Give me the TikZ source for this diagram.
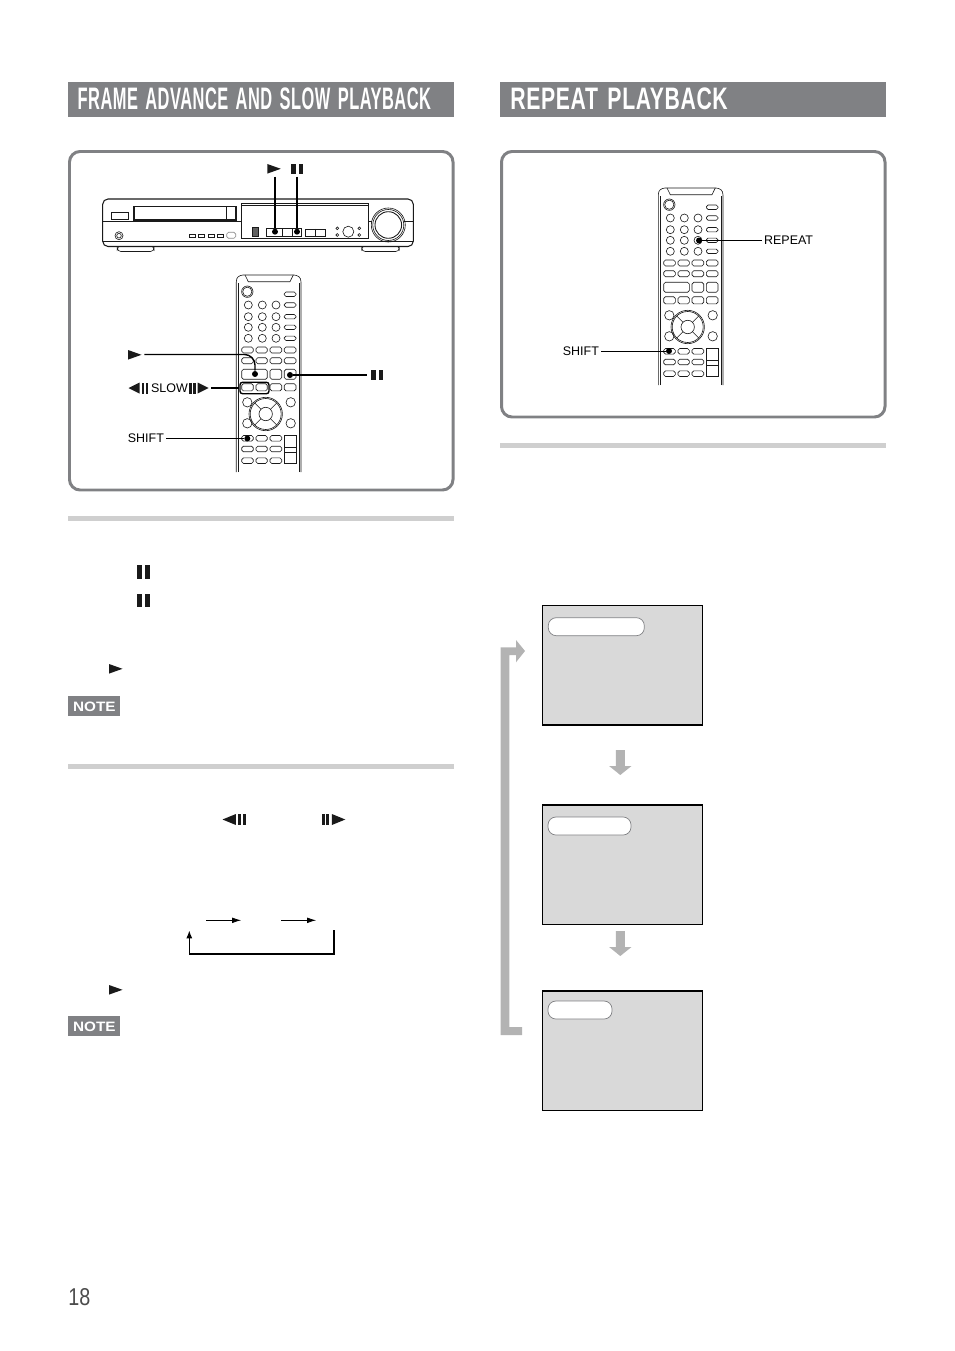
\documentclass[tikz,border=0pt]{standalone}
\usepackage{fontspec}
\setmainfont{Liberation Sans}
\usepackage{graphicx}
\usetikzlibrary{arrows.meta}
\definecolor{barc}{HTML}{808184}
\definecolor{rulec}{HTML}{CFCFCF}
\definecolor{loopc}{HTML}{B3B3B3}
\definecolor{screenc}{HTML}{D9D9D9}
\definecolor{ink}{HTML}{1A1A1A}
\newcommand{\headtext}[1]{\bfseries\addfontfeature{LetterSpace=3}\spaceskip=.45em\relax #1}
\tikzset{
  body/.style={draw=ink,line width=.35pt},
  btn/.style={draw=ink,line width=.35pt,rounded corners=1pt},
  panel/.style={draw=barc,line width=1.7pt,rounded corners=6pt},
  leader/.style={draw=black,line width=.8pt},
  thinleader/.style={draw=black,line width=.4pt},
  dot/.style={circle,fill=black,inner sep=0pt,minimum size=3.4pt},
  lbl/.style={inner sep=1pt,font=\fontsize{7.1pt}{8pt}\selectfont},
  bar/.style={fill=barc,draw=none},
  rulebar/.style={fill=rulec,draw=none},
  screen/.style={fill=screenc,draw=black,line width=.8pt,outer sep=0pt,inner sep=0pt,minimum width=3.2cm,minimum height=2.39cm},
  pill/.style={fill=white,draw=barc,line width=.4pt,rounded corners=4.5pt},
  notebox/.style={fill=barc,text=white,inner sep=0pt,minimum width=1.04cm,minimum height=.4cm},
  remote/.pic={
    \draw[body] (0.3,199) -- (0.3,9) .. controls (0.3,4) and (3,2.5) .. (7,2) -- (58,2) .. controls (62,2.5) and (65,4) .. (65,9) -- (65,199);
    \draw[body] (2.5,199) -- (2.5,10);
    \draw[body] (63,199) -- (63,10);
    \draw[body] (9,2) -- (12.3,8.7) -- (54,8.7) -- (57.3,2);
    \draw[body] (11.3,18.7) circle (5.7);
    \draw[body] (11.3,18.7) circle (4.6);
    \draw[btn] (48.3,19) rectangle (60,23.5);
    \foreach \yy in {32,43.7,54.3,65.3} {
      \foreach \xx in {12.3,26.3,40} \draw[body] (\xx,\yy) circle (4);
      \draw[btn] (48.3,\yy-2.2) rectangle (60,\yy+2.2);
    }
    \foreach \yy/\hh in {77/3,87.7/3,114.3/3.6} {
      \foreach \xa/\xb in {5.7/17.3,20/31.3,34/45.7,48.3/60}
        \draw[btn] (\xa,\yy-\hh) rectangle (\xb,\yy+\hh);
    }
    \foreach \xa/\xb in {5.7/31.3,34/45.7,48.3/60}
      \draw[btn] (\xa,96.3) rectangle (\xb,106.3);
    % cursor pad
    \begin{scope}[shift={(29.7,141)}]
      \draw[body] (0,0) circle (16.7);
      \draw[body] (0,0) circle (15.5);
      \draw[body] (0,0) circle (6.7);
      \foreach \sx/\sy in {1/1,1/-1,-1/1,-1/-1}
        \draw[body] (\sx*4.7,\sy*4.7) -- (\sx*11,\sy*11);
    \end{scope}
    \foreach \xx in {11.3,54.7} \foreach \yy in {129.3,150.3}
      \draw[body] (\xx,\yy) circle (4.7);
    \foreach \yy in {165.3,176,187.7} {
      \foreach \xa/\xb in {5.7/17.3,20/31.3,34/45.7}
        \draw[btn] (\xa,\yy-2.8) rectangle (\xb,\yy+2.8);
    }
    \draw[body] (48.3,162.7) rectangle (60,190);
    \draw[body] (48.3,174.7) -- (60,174.7);
    \draw[body] (48.3,179) -- (60,179);
  },
  playmark/.pic={\fill[ink] (0,0) -- (13.5,4.8) -- (0,9.6) -- cycle;},
  pausemark/.pic={\fill[ink] (0,0) rectangle (4.5,10); \fill[ink] (7.5,0) rectangle (12,10);},
  backmark/.pic={\fill[ink] (0,5.5) -- (11,0) -- (11,11) -- cycle; \fill[ink] (13,0) rectangle (15.5,11); \fill[ink] (17,0) rectangle (19.5,11);},
  fwdmark/.pic={\fill[ink] (0,0) rectangle (2.5,11); \fill[ink] (4,0) rectangle (6.5,11); \fill[ink] (8.5,0) -- (19.5,5.5) -- (8.5,11) -- cycle;},
  downmark/.pic={\fill[loopc] (-4.5,0) -- (4.5,0) -- (4.5,16) -- (11.2,16) -- (0,25) -- (-11.2,16) -- (-4.5,16) -- cycle;},
}

\begin{document}
\begin{tikzpicture}[x=0.02cm,y=-0.02cm]
  \useasboundingbox (0,0) rectangle (954,1351);

  % headings
  \fill[bar] (68,82) rectangle (454,117);
  \fill[bar] (500,82) rectangle (886,117);
  \node[anchor=west,inner sep=0pt,text=white] (framehead) at (77.3,99)
    {\resizebox{7.07cm}{.434cm}{\headtext{FRAME ADVANCE AND SLOW PLAYBACK}}};
  \node[anchor=west,inner sep=0pt,text=white] (repeathead) at (510,99)
    {\resizebox{4.35cm}{.434cm}{\headtext{REPEAT PLAYBACK}}};

  % panels
  \draw[panel] (69.5,151.5) rectangle (453,490);
  \draw[panel] (501.5,151.5) rectangle (885,417);

  % deck
  \draw[body,fill=white,rounded corners=2pt] (117.3,246) rectangle (154,251.5);
  \draw[body,fill=white,rounded corners=2pt] (361.7,246) rectangle (399.3,251.5);
  \draw[draw=ink,line width=.6pt,fill=white,rounded corners=3pt] (102.7,199) rectangle (413.3,246.5);
  \draw[body] (102.7,241.7) -- (413.3,241.7);
  \draw[body] (102.7,221.7) -- (241.7,221.7);
  \draw[body] (368.3,221.7) -- (372,221.7);
  \draw[body] (404,221.7) -- (413.3,221.7);
  \draw[body] (111.7,212.7) rectangle (128.3,219.3);
  \draw[draw=ink,line width=.6pt] (134,206.7) rectangle (236,220);
  \draw[body] (226,206.7) -- (226,220);
  \draw[body] (119,235.7) circle (4);
  \draw[body] (119,235.7) circle (2.3);
  \foreach \xx in {189.3,198.6,208,217.3}
    \draw[body] (\xx,234.3) rectangle ++(6,3.4);
  \draw[btn,draw=black!45] (226.7,232.3) rectangle (235.7,238.3);
  \draw[draw=ink,line width=.6pt] (241.7,203.3) rectangle (368.3,238.3);
  \draw[body] (241.7,205.5) -- (368.3,205.5);
  \draw[body,fill=ink!70] (252.3,227.3) rectangle (258.3,236);
  \draw[draw=ink,line width=.5pt] (266.7,228.3) rectangle (301.7,236);
  \draw[body] (282.7,228.3) -- (282.7,236);
  \draw[body] (292.3,228.3) -- (292.3,236);
  \draw[draw=ink,line width=.5pt] (305,229) rectangle (325,236);
  \draw[body] (315,229) -- (315,236);
  \draw[body] (348.3,231.7) circle (5.5);
  \foreach \xx/\yy in {337.3/228.3,359.3/228.3,337.3/235,359.3/235}
    \draw[body] (\xx,\yy) circle (1.4);
  \draw[body] (388.3,225) circle (17);
  \draw[body] (388.3,225) circle (15.5);
  \draw[draw=ink,line width=.5pt] (388.3,225) circle (13.3);

  \pic at (267.3,164) {playmark};
  \pic at (291,164) {pausemark};
  \coordinate (deckplaytop) at (275,176.7);
  \coordinate (deckpausetop) at (297,176.7);
  \node[dot] (deckplay) at (275,231.7) {};
  \node[dot] (deckpause) at (297,231.7) {};
  \draw[leader] (deckplaytop) -- (deckplay);
  \draw[leader] (deckpausetop) -- (deckpause);

  % left remote
  \pic at (236,273) {remote};
  \pic at (128,350) {playmark};
  \coordinate (playstart) at (144.3,354.5);
  \node[dot] (playdot) at (255,374) {};
  \draw[leader,rounded corners=6pt] (playstart) -- (255,354.5) -- (playdot);
  \node[dot] (pausedot) at (290,375) {};
  \coordinate (pauseend) at (366.7,375);
  \draw[leader] (pausedot) -- (pauseend);
  \pic at (371,370) {pausemark};
  \pic at (128.5,382.5) {backmark};
  \node[lbl,anchor=west] (slowlbl) at (149,388) {SLOW};
  \pic at (189,382.5) {fwdmark};
  \coordinate (slowstart) at (211,388);
  \node[draw=black,line width=.8pt,rounded corners=1.5pt,inner sep=0pt,minimum width=.58cm,minimum height=.23cm] (slowbox) at (254.5,388) {};
  \draw[leader] (slowstart) -- (slowbox.west);
  \node[lbl,anchor=east] (shiftlbl) at (166,438.5) {SHIFT};
  \node[dot] (shiftdot) at (247.3,438.5) {};
  \draw[leader] (shiftlbl.east) -- (shiftdot);

  % right remote
  \pic at (658,186) {remote};
  \node[lbl,anchor=west] (repeatlbl) at (762,240.5) {REPEAT};
  \node[dot] (repeatdot) at (699,240.5) {};
  \draw[thinleader] (repeatdot) -- (repeatlbl.west);
  \node[lbl,anchor=east] (shiftlblb) at (601,351) {SHIFT};
  \node[dot] (shiftdotb) at (669,351) {};
  \draw[thinleader] (shiftlblb.east) -- (shiftdotb);

  % rules
  \fill[rulebar] (68,516) rectangle (454,521);
  \fill[rulebar] (68,764) rectangle (454,769);
  \fill[rulebar] (500,443) rectangle (886,448);

  % text column marks
  \pic[scale=1.08,yscale=1.27] at (137,565) {pausemark};
  \pic[scale=1.08,yscale=1.27] at (137,593.5) {pausemark};
  \pic at (109,664) {playmark};
  \node[notebox,anchor=north west] (notea) at (68,696) {\resizebox{.85cm}{.19cm}{\bfseries NOTE}};
  \pic[xscale=1.22] at (222.5,814) {backmark};
  \pic[xscale=1.22] at (321.5,814) {fwdmark};
  \coordinate (ra1) at (206,920.3);
  \coordinate (ra2) at (241,920.3);
  \coordinate (rb1) at (281,920.3);
  \coordinate (rb2) at (316,920.3);
  \draw[thinleader,-{Latex[length=5pt,width=3.2pt]}] (ra1) -- (ra2);
  \draw[thinleader,-{Latex[length=5pt,width=3.2pt]}] (rb1) -- (rb2);
  \coordinate (loopa) at (334,930);
  \coordinate (loopb) at (189.3,930.5);
  \draw[line width=.7pt,-{Latex[length=4.5pt,width=3.5pt]}] (loopa) -- (334,954) -- (189.3,954) -- (loopb);
  \pic at (109,985) {playmark};
  \node[notebox,anchor=north west] (noteb) at (68,1016) {\resizebox{.85cm}{.19cm}{\bfseries NOTE}};

  % screens
  \node[screen,anchor=north west] (screena) at (542.7,605.7) {};
  \node[screen,anchor=north west] (screenb) at (542.7,805) {};
  \node[screen,anchor=north west] (screenc) at (542.7,991) {};
  \draw[pill] (548.3,617.7) rectangle (644.3,635.7);
  \draw[pill] (548,817) rectangle (631,835);
  \draw[pill] (548,1001) rectangle (612,1019);
  \pic at (620.3,750) {downmark};
  \pic at (620.3,931) {downmark};
  \fill[loopc] (500.7,1035) -- (522,1035) -- (522,1027) -- (509.3,1027) -- (509.3,655)
    -- (516,655) -- (516,662.3) -- (525,651) -- (516,640) -- (516,647.3) -- (500.7,647.3) -- cycle;

  \node[anchor=west,inner sep=0pt,text=black!70] (pagenum) at (68,1297.5) {\resizebox{.44cm}{.34cm}{18}};
\end{tikzpicture}
\end{document}
